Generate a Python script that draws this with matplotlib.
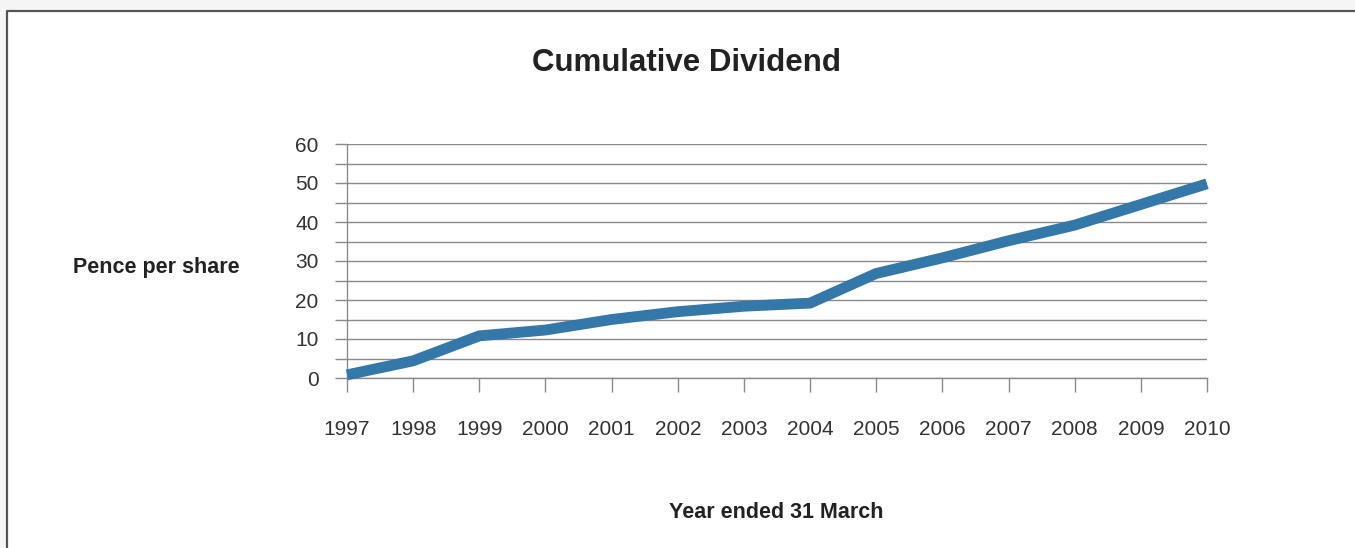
import numpy as np
import matplotlib
matplotlib.use('Agg')
import matplotlib.pyplot as plt
from matplotlib.lines import Line2D
from matplotlib.patches import Rectangle

plt.rcParams['font.family'] = ['Liberation Sans', 'DejaVu Sans']

# data
years = [1997, 1998, 1999, 2000, 2001, 2002, 2003, 2004, 2005, 2006, 2007, 2008, 2009, 2010]
dividend = [0.8, 4.4, 10.8, 12.3, 15.0, 17.0, 18.4, 19.2, 26.8, 30.8, 35.2, 39.2, 44.5, 49.8]
yticks_major = [0, 10, 20, 30, 40, 50, 60]
yticks_minor = [5, 15, 25, 35, 45, 55]

W, H = 1355, 548
fig = plt.figure(figsize=(W / 100, H / 100), dpi=100)

# outer frame with faint shadow
fig.patches.append(Rectangle((0, 1 - 10.5 / H), 1, 10.5 / H, transform=fig.transFigure,
                             facecolor='#f5f5f5', edgecolor='none', zorder=0))
fig.patches.append(Rectangle((0, 0), 7 / W, 1, transform=fig.transFigure,
                             facecolor='#f5f5f5', edgecolor='none', zorder=0))
fig.lines.append(Line2D([7 / W, 7 / W, 1], [0, 1 - 10.5 / H, 1 - 10.5 / H],
                        transform=fig.transFigure, color='#555555', lw=1.6))

ax = fig.add_axes([347 / W, 1 - 378 / H, (1207 - 347) / W, (378 - 144) / H])
grid_c = '#8a8a8a'

ax.plot(years, dividend, color='#3378a8', lw=7.8, solid_capstyle='butt',
        solid_joinstyle='miter', clip_on=False, zorder=3)

ax.set_xlim(1997, 2010)
ax.set_ylim(0, 60)
ax.set_xticks(years)
ax.set_xticklabels([str(y) for y in years])
ax.set_yticks(yticks_major)
ax.set_yticks(yticks_minor, minor=True)

for s in ['top', 'right']:
    ax.spines[s].set_visible(False)
for s in ['left', 'bottom']:
    ax.spines[s].set_color(grid_c)
    ax.spines[s].set_linewidth(1.0)

ax.grid(axis='y', which='both', color=grid_c, lw=1.0)
ax.set_axisbelow(True)

ax.tick_params(axis='y', which='both', length=8.6, width=1.0, color=grid_c,
               labelsize=15, labelcolor='#333333', pad=12)
ax.tick_params(axis='x', length=10, width=1.0, color=grid_c,
               labelsize=15, labelcolor='#333333', pad=20)

fig.text(687 / W, 1 - 63 / H, 'Cumulative Dividend', ha='center', va='center',
         fontsize=22.5, fontweight='bold', color='#222222')
fig.text(73 / W, 1 - 268 / H, 'Pence per share', ha='left', va='center',
         fontsize=15.5, fontweight='bold', color='#222222')
fig.text(776 / W, 1 - 513 / H, 'Year ended 31 March', ha='center', va='center',
         fontsize=15.5, fontweight='bold', color='#222222')

fig.savefig('out.png', dpi=100, facecolor='white')
